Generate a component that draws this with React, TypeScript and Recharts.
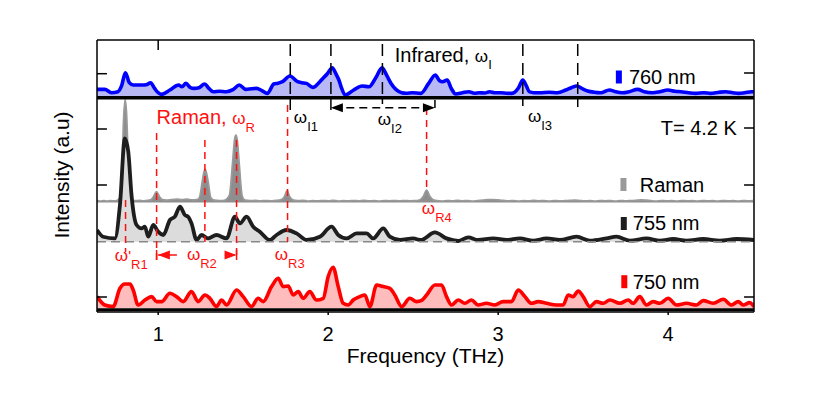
import React from 'react';
import { ComposedChart, Area, XAxis, YAxis, ReferenceLine, ReferenceDot } from 'recharts';

// ---------- data (frequency in THz, intensity in a.u.) ----------
const freqTicks = [1, 2, 3, 4];

const ir760Freq = [0.64, 0.686, 0.725, 0.763, 0.785, 0.807, 0.83, 0.853, 0.904, 0.93, 0.955, 0.98, 1.0, 1.018, 1.069, 1.12, 1.14, 1.163, 1.19, 1.21, 1.24, 1.273, 1.3, 1.324, 1.36, 1.4, 1.44, 1.477, 1.516, 1.55, 1.579, 1.61, 1.642, 1.68, 1.705, 1.731, 1.775, 1.82, 1.845, 1.872, 1.91, 1.94, 1.96, 1.995, 2.024, 2.045, 2.063, 2.08, 2.1, 2.15, 2.2, 2.24, 2.28, 2.317, 2.345, 2.37, 2.4, 2.432, 2.46, 2.495, 2.545, 2.59, 2.63, 2.655, 2.673, 2.7, 2.725, 2.75, 2.79, 2.827, 2.86, 2.89, 2.92, 2.95, 2.98, 3.016, 3.05, 3.08, 3.12, 3.145, 3.165, 3.183, 3.21, 3.245, 3.3, 3.348, 3.398, 3.43, 3.463, 3.495, 3.527, 3.565, 3.603, 3.654, 3.69, 3.73, 3.77, 3.82, 3.86, 3.909, 3.95, 3.998, 4.04, 4.075, 4.12, 4.163, 4.21, 4.25, 4.3, 4.34, 4.38, 4.416, 4.45, 4.49, 4.505];
const ir760Int = [8.3, 8.3, 5, 6, 12, 25, 15, 12.7, 12.7, 13, 15, 9, 5, 3.3, 7.7, 12.7, 11, 14.3, 10, 9.3, 10, 13.7, 9, 6, 6.5, 6, 8, 12.7, 8.3, 9, 9.3, 7, 4.3, 13.7, 14.5, 16, 21.7, 16, 15, 14.3, 10.3, 14, 17.7, 24, 30, 24, 17.7, 9, 2.7, 7.7, 11.7, 11, 20, 30, 22, 14.3, 8, 5, 4.5, 5, 4.3, 14, 22.7, 17, 16, 17.7, 9, 3.7, 5, 6, 4.5, 5, 4.7, 6, 5, 5, 4.5, 4.3, 10, 17.7, 12, 6, 5, 5, 5.5, 5, 7.7, 10, 11.7, 9, 6.7, 5.5, 5, 7.7, 6, 5, 6, 8.3, 6, 5, 6, 7.7, 6.5, 6, 5, 4.3, 5, 4.3, 5.5, 6, 5, 4.3, 5, 6, 6];

const ramanFreq = [0.64, 0.66, 0.68, 0.7, 0.72, 0.74, 0.76, 0.775, 0.788, 0.797, 0.806, 0.815, 0.824, 0.836, 0.85, 0.87, 0.89, 0.91, 0.93, 0.955, 0.972, 0.99, 1.008, 1.025, 1.05, 1.08, 1.11, 1.14, 1.17, 1.2, 1.225, 1.242, 1.259, 1.268, 1.276, 1.284, 1.294, 1.31, 1.33, 1.36, 1.39, 1.418, 1.438, 1.449, 1.457, 1.465, 1.476, 1.494, 1.51, 1.54, 1.57, 1.6, 1.63, 1.66, 1.69, 1.72, 1.742, 1.758, 1.774, 1.795, 1.82, 1.85, 1.88, 1.91, 1.94, 1.97, 2.0, 2.03, 2.06, 2.09, 2.12, 2.15, 2.18, 2.21, 2.24, 2.27, 2.3, 2.33, 2.36, 2.39, 2.42, 2.45, 2.48, 2.51, 2.54, 2.56, 2.579, 2.598, 2.618, 2.64, 2.67, 2.7, 2.73, 2.76, 2.79, 2.82, 2.85, 2.88, 2.91, 2.94, 2.97, 3.0, 3.03, 3.06, 3.09, 3.12, 3.15, 3.18, 3.21, 3.24, 3.27, 3.3, 3.33, 3.36, 3.39, 3.42, 3.45, 3.48, 3.51, 3.54, 3.57, 3.6, 3.63, 3.66, 3.69, 3.72, 3.75, 3.78, 3.81, 3.84, 3.87, 3.9, 3.93, 3.96, 3.99, 4.02, 4.05, 4.08, 4.11, 4.14, 4.17, 4.2, 4.23, 4.26, 4.29, 4.32, 4.35, 4.38, 4.41, 4.44, 4.47, 4.5];
const ramanInt = [1.0, 0.6, 1.2, 0.7, 1.0, 0.8, 1.5, 4, 40, 85, 102, 85, 40, 5, 1.5, 1.0, 1.3, 0.8, 1.2, 1.8, 5, 10, 5, 2, 1.5, 2.2, 2.5, 2.0, 2.6, 1.8, 2, 4, 20, 29, 32.7, 29, 20, 4, 1.5, 1.0, 1.4, 6, 40, 62, 66.7, 62, 40, 6, 1.5, 1.0, 1.3, 0.8, 1.2, 0.9, 1.3, 1.8, 5, 11, 5, 1.5, 1.0, 1.3, 0.7, 1.1, 0.8, 1.2, 0.9, 1.3, 0.7, 1.1, 0.8, 1.2, 0.9, 1.3, 0.8, 1.1, 0.7, 1.2, 0.9, 1.2, 0.8, 1.2, 0.9, 1.0, 2, 5.5, 11.7, 5.5, 2, 1.0, 0.7, 1.2, 0.8, 1.3, 0.9, 1.1, 0.7, 1.2, 1.5, 2.0, 2.2, 1.8, 1.3, 0.8, 1.2, 0.7, 1.1, 0.8, 1.3, 0.9, 1.1, 0.7, 1.2, 0.8, 1.0, 1.3, 1.6, 1.2, 0.8, 1.1, 0.7, 1.2, 0.9, 1.1, 0.7, 1.2, 0.8, 1.1, 1.4, 1.8, 1.5, 1.0, 0.7, 1.2, 0.8, 1.1, 0.7, 1.2, 0.9, 1.0, 0.7, 1.2, 0.8, 1.1, 0.7, 1.2, 0.9, 1.0, 0.7, 1.2, 0.8, 1.0];

const nm755Freq = [0.64, 0.676, 0.745, 0.775, 0.804, 0.824, 0.843, 0.873, 0.902, 0.922, 0.941, 0.971, 1.0, 1.03, 1.069, 1.098, 1.128, 1.157, 1.176, 1.196, 1.226, 1.255, 1.294, 1.343, 1.402, 1.451, 1.481, 1.52, 1.559, 1.598, 1.657, 1.696, 1.755, 1.814, 1.873, 1.951, 2.02, 2.059, 2.108, 2.167, 2.226, 2.265, 2.324, 2.363, 2.422, 2.5, 2.545, 2.628, 2.696, 2.765, 2.824, 2.882, 2.971, 3.05, 3.128, 3.206, 3.285, 3.363, 3.461, 3.54, 3.638, 3.696, 3.775, 3.873, 3.951, 4.03, 4.108, 4.206, 4.304, 4.402, 4.505];
const nm755Int = [11.7, 5, 3.3, 36.7, 103.3, 90, 46.7, 16.7, 13.3, 15, 5, 16.7, 10, 6.7, 21.7, 25, 35, 26.7, 25, 18.3, 1.7, 6.7, 3.3, 6.7, 3.3, 25, 18.3, 25, 15, 10, 1.7, 6.7, 11.7, 8.3, 1.7, 5, 15, 6.7, 3.3, 8.3, 8.3, 3.3, 13.3, 5, 1.7, 3.3, 1.7, 9.3, 3.3, 0.7, 4.3, 1.7, 3.3, 1.7, 3.3, 1, 3.3, 1.7, 5, 1, 3.3, 5, 1, 3.3, 1, 2.7, 1, 2.7, 1, 2.7, 1.7];

const nm750Freq = [0.64, 0.686, 0.735, 0.775, 0.804, 0.834, 0.853, 0.882, 0.922, 0.961, 0.99, 1.02, 1.069, 1.108, 1.147, 1.196, 1.235, 1.275, 1.304, 1.343, 1.373, 1.402, 1.461, 1.5, 1.549, 1.588, 1.618, 1.667, 1.706, 1.735, 1.765, 1.794, 1.824, 1.853, 1.892, 1.931, 1.971, 2.0, 2.029, 2.059, 2.088, 2.118, 2.147, 2.186, 2.216, 2.245, 2.285, 2.324, 2.363, 2.392, 2.432, 2.48, 2.52, 2.55, 2.579, 2.628, 2.667, 2.696, 2.726, 2.765, 2.804, 2.843, 2.882, 2.931, 2.98, 3.029, 3.078, 3.118, 3.157, 3.196, 3.235, 3.285, 3.343, 3.382, 3.412, 3.441, 3.471, 3.5, 3.539, 3.578, 3.618, 3.657, 3.716, 3.765, 3.794, 3.833, 3.873, 3.912, 3.951, 4.0, 4.049, 4.108, 4.167, 4.206, 4.265, 4.324, 4.373, 4.412, 4.441, 4.48, 4.505];
const nm750Int = [11.7, 3.3, 1.7, 20, 24.3, 24.3, 18.3, 3.3, 8.3, 11.7, 6.7, 6.7, 15, 11.7, 6.7, 16.7, 6.7, 13.3, 10, 1.7, 8.3, 3.3, 18.3, 11.7, 1.7, 10, 6.7, 21.7, 30, 21.7, 22.3, 13.3, 16.7, 10, 16.7, 8.3, 10, 31.7, 41, 21.7, 5, 3.3, 8.3, 11.7, 13.3, 1.7, 23.3, 21.7, 20, 13.3, 1.7, 10, 6.7, 8, 13.3, 23.3, 23.3, 11.7, 3.3, 8.3, 5, 8.3, 3.3, 5, 3.3, 6.7, 6.7, 18.3, 11.7, 5, 6.7, 5, 3.3, 3.3, 13.3, 11.7, 17.3, 11.7, 1.7, 6.7, 5, 8.3, 5, 8.3, 5, 11.7, 3.3, 6.7, 5, 10, 3.3, 5, 3.3, 7.7, 5, 9, 3.3, 6.7, 3.3, 5.7, 1.7];

// marker frequencies (THz)
const ramanLines = [0.808, 0.9906, 1.2747, 1.461, 1.761, 2.579];
const infraredLines = [1.777, 2.016, 2.319, 3.145, 3.468];

// ---------- layout constants ----------
const X_DOMAIN: [number, number] = [0.64, 4.505];
const Y_DOMAIN: [number, number] = [0, 272];
const OFF_760 = 214.3;
const OFF_RAMAN = 110.3;
const OFF_755 = 70.3;
const OFF_750 = 3.7;
const FONT = "'Liberation Sans', Arial, Helvetica, sans-serif";
const RED = '#ff1010';

function buildRows() {
  const map = new Map<number, any>();
  const add = (key: string, fr: number[], vals: number[], off: number) => {
    fr.forEach((f, i) => {
      const k = Math.round(f * 10000) / 10000;
      if (!map.has(k)) map.set(k, { f: k });
      map.get(k)[key] = off + vals[i];
    });
  };
  add('ir', ir760Freq, ir760Int, OFF_760);
  add('raman', ramanFreq, ramanInt, OFF_RAMAN);
  add('n755', nm755Freq, nm755Int, OFF_755);
  add('n750', nm750Freq, nm750Int, OFF_750);
  return Array.from(map.values()).sort((a, b) => a.f - b.f);
}
const rows = buildRows();

const note = (key: string, f: number, v: number, render: (cx: number, cy: number) => React.ReactElement) => (
  <ReferenceDot key={key} x={f} y={v} r={0} ifOverflow="visible" shape={(p: any) => render(p.cx, p.cy)} />
);

const omega = (cx: number, cy: number, sub: string, color: string, prime = false) => (
  <text x={cx} y={cy} fill={color} fontFamily={FONT}>
    <tspan fontSize={17}>ω</tspan>
    {prime ? <tspan fontSize={15}>'</tspan> : null}
    <tspan fontSize={13} dy={8}>{sub}</tspan>
  </text>
);

const seg = (key: string, f1: number, v1: number, f2: number, v2: number, stroke: string, width: number, dash?: string) => (
  <ReferenceLine key={key} segment={[{ x: f1, y: v1 }, { x: f2, y: v2 }]} stroke={stroke} strokeWidth={width} strokeDasharray={dash} ifOverflow="visible" />
);

const arrowHead = (key: string, f: number, v: number, dir: 'l' | 'r', color: string) =>
  note(key, f, v, (cx, cy) => {
    const s = dir === 'l' ? 1 : -1;
    return <polygon points={`${cx},${cy} ${cx + s * 12},${cy - 4.5} ${cx + s * 12},${cy + 4.5}`} fill={color} />;
  });

const legendItem = (key: string, fr: number, vr: number, ft: number, vt: number, color: string, label: string) => [
  note(key + 'r', fr, vr, (cx, cy) => <rect x={cx - 3} y={cy - 6.5} width={6} height={13} fill={color} />),
  note(key + 't', ft, vt, (cx, cy) => <text x={cx} y={cy} fontSize={20} fontFamily={FONT} fill="#000">{label}</text>),
];

export default function App() {
  const [x0, x1] = X_DOMAIN;
  return (
    <div style={{ position: 'absolute', left: 0, top: 0, width: 817, height: 409, background: '#fff' }}>
      <ComposedChart width={817} height={409} data={rows} margin={{ top: 40, right: 63, bottom: 37, left: 97 }}>
        <XAxis
          dataKey="f"
          type="number"
          domain={X_DOMAIN}
          allowDataOverflow
          ticks={freqTicks}
          tickSize={3}
          tickMargin={12}
          height={60}
          axisLine={{ stroke: '#000', strokeWidth: 1.5 }}
          tickLine={{ stroke: '#000', strokeWidth: 1.5 }}
          tick={{ fontSize: 20, fill: '#000', fontFamily: FONT }}
        />
        <YAxis type="number" domain={Y_DOMAIN} allowDataOverflow hide />

        <Area dataKey="ir" type="monotone" baseValue={OFF_760} stroke="#0000ff" strokeWidth={3.6} fill="#b8b8f4" fillOpacity={1} connectNulls dot={false} activeDot={false} isAnimationActive={false} />
        <Area dataKey="raman" type="monotone" baseValue={OFF_RAMAN - 0.8} stroke="#9a9a9a" strokeWidth={1.7} fill="#8e8e8e" fillOpacity={1} connectNulls dot={false} activeDot={false} isAnimationActive={false} />
        <Area dataKey="n755" type="monotone" baseValue={OFF_755} stroke="#1e1e1e" strokeWidth={3.8} fill="#dcdcdc" fillOpacity={1} connectNulls dot={false} activeDot={false} isAnimationActive={false} />
        <Area dataKey="n750" type="monotone" baseValue={OFF_750} stroke="#ff0000" strokeWidth={3.6} fill="#ffbcbc" fillOpacity={1} connectNulls dot={false} activeDot={false} isAnimationActive={false} />

        {/* baselines */}
        <ReferenceLine y={OFF_755} stroke="#888" strokeWidth={1.5} strokeDasharray="9 5" />
        <ReferenceLine y={OFF_760} stroke="#000" strokeWidth={3.5} ifOverflow="visible" />
        <ReferenceLine y={2.3} stroke="#000" strokeWidth={3} ifOverflow="visible" />

        {/* frame */}
        <ReferenceLine x={x0} stroke="#000" strokeWidth={1.5} ifOverflow="visible" />
        <ReferenceLine x={x1} stroke="#000" strokeWidth={1.5} ifOverflow="visible" />
        <ReferenceLine y={Y_DOMAIN[1]} stroke="#000" strokeWidth={1.5} ifOverflow="visible" />
        {seg('tt1', 1, 272, 1, 262, '#000', 1.5)}
        {[238.3, 183, 127, 15].map((v, i) => seg('lt' + i, x0, v, x0 + 0.0585, v, '#000', 1.5))}
        {[239, 184, 127, 15].map((v, i) => seg('rt' + i, x1 - 0.0585, v, x1, v, '#000', 1.5))}

        {/* infrared markers */}
        {infraredLines.map((f, i) => seg('ir' + i, f, 268, f, OFF_760, '#000', 1.5, '12 7'))}
        {seg('irs0', infraredLines[0], OFF_760, infraredLines[0], 202, '#000', 1.5)}
        {seg('irs1', infraredLines[1], OFF_760, infraredLines[1], 202, '#000', 1.5)}
        {seg('irs2', infraredLines[2], OFF_760, infraredLines[2], 208, '#000', 1.5)}
        {seg('irs3', infraredLines[3], OFF_760, infraredLines[3], 206, '#000', 1.5)}
        {seg('irs4', infraredLines[4], OFF_760, infraredLines[4], 205, '#000', 1.5)}
        {seg('irs5', 2.628, 212, 2.628, 204, '#000', 1.5)}
        {seg('ira', 2.03, 204.3, 2.615, 204.3, '#000', 1.5, '8 5')}
        {arrowHead('ah1', 2.016, 204.3, 'l', '#000')}
        {arrowHead('ah2', 2.628, 204.3, 'r', '#000')}

        {/* Raman markers */}
        {seg('rl0', ramanLines[0], 112, ramanLines[0], 60, RED, 1.5, '7 5')}
        {seg('rl1', ramanLines[1], 179, ramanLines[1], 52, RED, 1.5, '7 5')}
        {seg('rl2', ramanLines[2], 172, ramanLines[2], 70, RED, 1.5, '7 5')}
        {seg('rl3', ramanLines[3], 172, ramanLines[3], 52, RED, 1.5, '7 5')}
        {seg('rl4', ramanLines[4], 207, ramanLines[4], 70, RED, 1.5, '7 5')}
        {seg('rl5', ramanLines[5], 204, ramanLines[5], 120, RED, 1.5, '7 5')}
        {seg('rb1', ramanLines[1], 52, ramanLines[1], 62, RED, 1.5)}
        {seg('rb3', ramanLines[3], 52, ramanLines[3], 62, RED, 1.5)}
        {seg('ra1', 1.0, 57, 1.11, 57, RED, 1.5)}
        {seg('ra2', 1.392, 57, 1.45, 57, RED, 1.5)}
        {arrowHead('rh1', 0.998, 57, 'l', RED)}
        {arrowHead('rh2', 1.461, 57, 'r', RED)}

        {/* texts */}
        {note('t-ir', 2.392, 250.5, (cx, cy) => (
          <text x={cx} y={cy} fontSize={20} fontFamily={FONT} fill="#000">
            Infrared, <tspan fontSize={17}>ω</tspan><tspan fontSize={13} dy={7}>I</tspan>
          </text>
        ))}
        {note('t-ram', 0.9906, 188, (cx, cy) => (
          <text x={cx} y={cy} fontSize={20} fontFamily={FONT} fill={RED}>
            Raman, <tspan fontSize={17}>ω</tspan><tspan fontSize={13} dy={8}>R</tspan>
          </text>
        ))}
        {note('t-i1', 1.798, 189, (cx, cy) => omega(cx, cy, 'I1', '#000'))}
        {note('t-i2', 2.292, 187, (cx, cy) => omega(cx, cy, 'I2', '#000'))}
        {note('t-i3', 3.175, 190, (cx, cy) => omega(cx, cy, 'I3', '#000'))}
        {note('t-r1', 0.745, 51, (cx, cy) => omega(cx, cy, 'R1', RED, true))}
        {note('t-r2', 1.169, 52, (cx, cy) => omega(cx, cy, 'R2', RED))}
        {note('t-r3', 1.686, 52, (cx, cy) => omega(cx, cy, 'R3', RED))}
        {note('t-r4', 2.551, 98, (cx, cy) => omega(cx, cy, 'R4', RED))}
        {note('t-T', 4.404, 177, (cx, cy) => (
          <text x={cx} y={cy} fontSize={20} fontFamily={FONT} fill="#000" textAnchor="end">T= 4.2 K</text>
        ))}

        {legendItem('lg760', 3.71, 235, 3.769, 228, '#0000ff', '760 nm')}
        {legendItem('lgram', 3.737, 127.5, 3.833, 120.5, '#999999', 'Raman')}
        {legendItem('lg755', 3.739, 88.5, 3.792, 82, '#1e1e1e', '755 nm')}
        {legendItem('lg750', 3.742, 30.3, 3.792, 23.5, '#ff0000', '750 nm')}

        {note('t-xt', 2.572, -51, (cx, cy) => (
          <text x={cx} y={cy} fontSize={21} fontFamily={FONT} fill="#000" textAnchor="middle">Frequency (THz)</text>
        ))}
        {note('t-yt', 0.4335, 137, (cx, cy) => (
          <text x={cx} y={cy} fontSize={21} fontFamily={FONT} fill="#000" textAnchor="middle" dominantBaseline="central" transform={`rotate(-90, ${cx}, ${cy})`}>Intensity (a.u)</text>
        ))}
      </ComposedChart>
    </div>
  );
}
